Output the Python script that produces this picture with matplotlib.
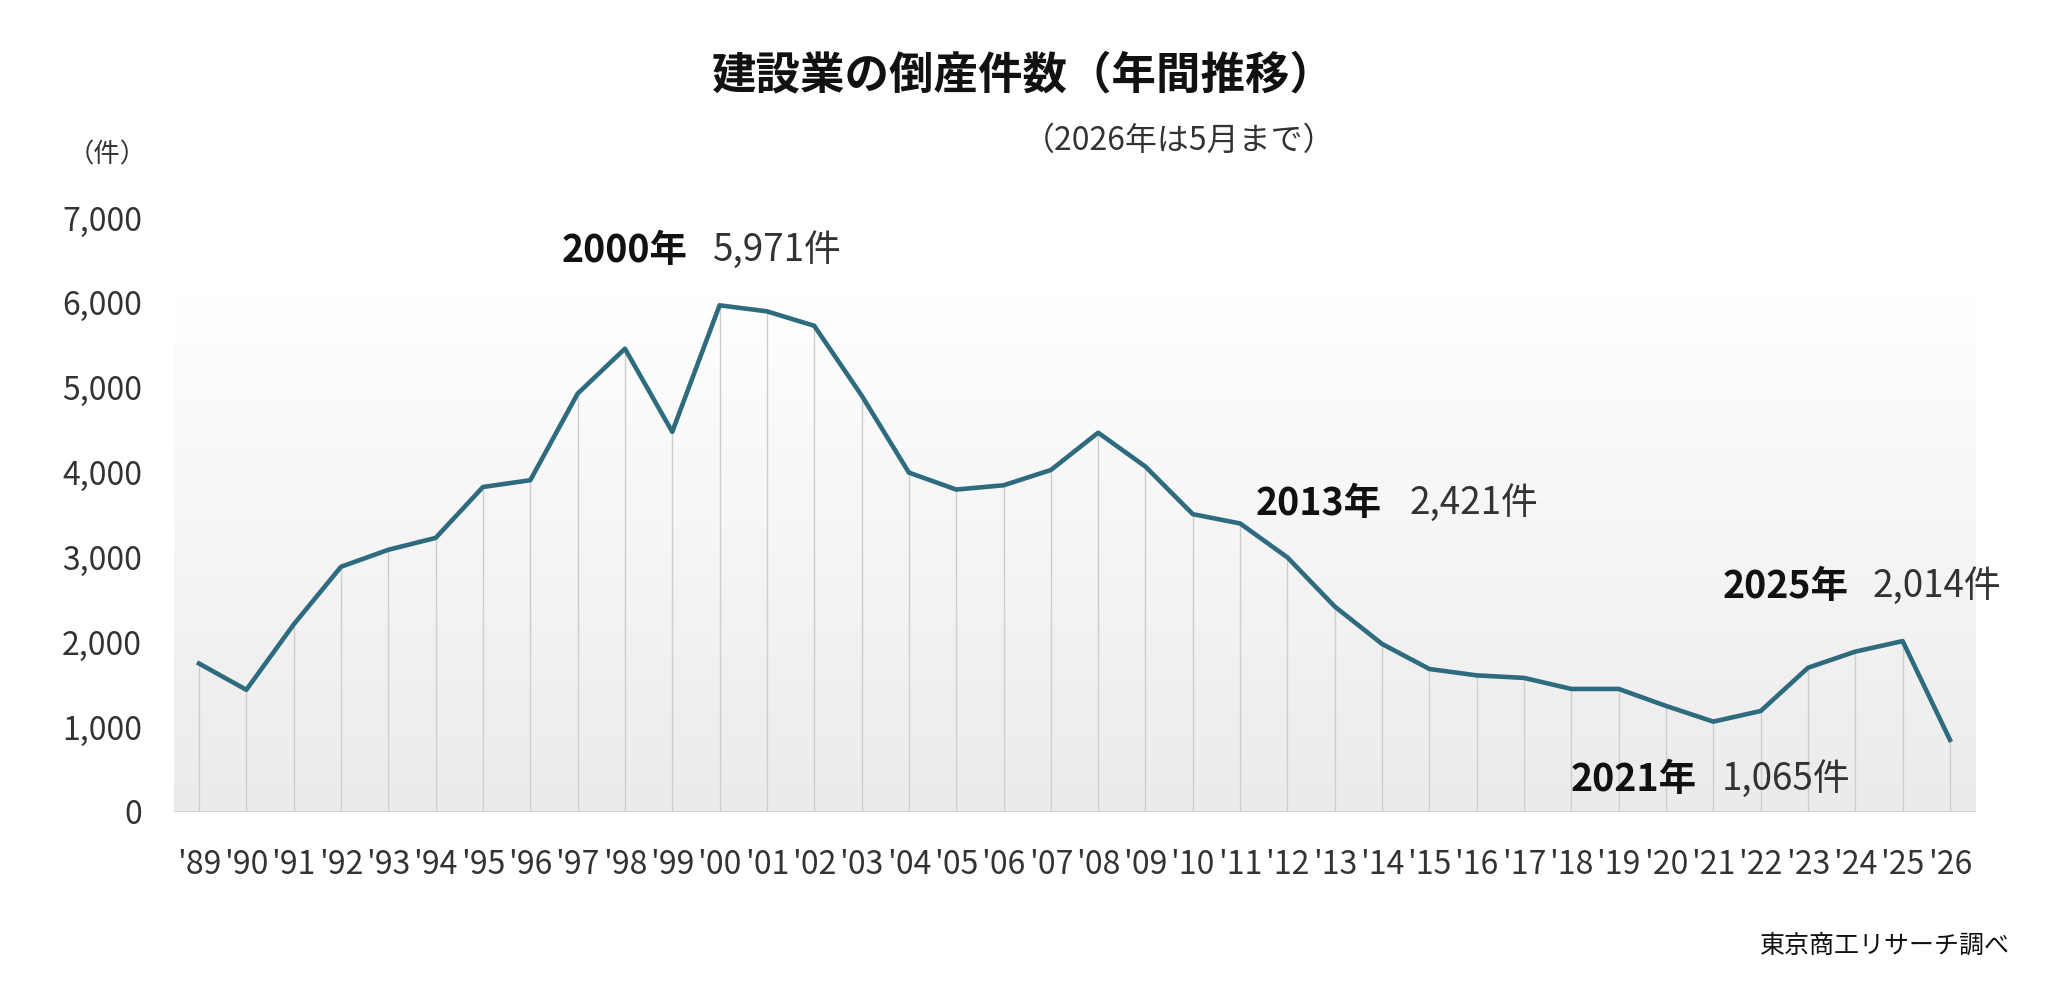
import numpy as np
import matplotlib
matplotlib.use('Agg')
import matplotlib.pyplot as plt

plt.rcParams['font.family'] = ['Noto Sans CJK JP', 'DejaVu Sans']

# 建設業の倒産件数 (東京商工リサーチ), 2026 is January-May only
years = list(range(1989, 2027))
counts = [1750, 1440, 2210, 2890, 3090, 3230, 3830, 3910, 4930, 5460,
          4480, 5971, 5900, 5730, 4910, 4000, 3800, 3850, 4030, 4470,
          4070, 3510, 3400, 3000, 2421, 1980, 1685, 1610, 1580, 1450,
          1450, 1250, 1065, 1190, 1700, 1890, 2014, 850]
tick_labels = ["'" + str(y)[2:] for y in years]
y_ticks = [0, 1000, 2000, 3000, 4000, 5000, 6000, 7000]

# highlighted years: (year label, count label, x of year, x of count, y)
notes = [
    ('2000年', '5,971件', 1996.67, 1999.87, 6620),
    ('2013年', '2,421件', 2011.33, 2014.58, 3640),
    ('2025年', '2,014件', 2021.2, 2024.37, 2660),
    ('2021年', '1,065件', 2017.98, 2021.18, 380),
]

line_color = '#2e6b7e'
text_color = '#333333'

fig = plt.figure(figsize=(20.61, 10), dpi=100)
ax = fig.add_axes([0.0844, 0.188, 0.8739, 0.594])

# soft vertical gradient behind the plot
grad = np.linspace(0, 1, 256).reshape(-1, 1)
ax.imshow(grad, cmap=matplotlib.colors.LinearSegmentedColormap.from_list(
    'bg', ['#ebebeb', '#ffffff']), origin='lower', aspect='auto',
    extent=(0, 1, 0, 0.874), transform=ax.transAxes, zorder=0)

ax.vlines(years, 0, counts, color='#cdcdcd', linewidth=1, zorder=1)
ax.axhline(0, color='#d2d2d2', linewidth=2, zorder=2)
ax.plot(years, counts, color=line_color, linewidth=3.3, zorder=3)

ax.set_xlim(1988.47, 2026.53)
ax.set_ylim(0, 7000)
ax.set_xticks(years)
ax.set_xticklabels(tick_labels)
ax.set_yticks(y_ticks)
ax.set_yticklabels([f'{v:,}' for v in y_ticks])
ax.tick_params(axis='both', length=0, labelsize=23, labelcolor=text_color)
ax.tick_params(axis='x', pad=27)
ax.tick_params(axis='y', pad=23)
for s in ax.spines.values():
    s.set_visible(False)

for year_txt, count_txt, x1, x2, y in notes:
    ax.text(x1, y, year_txt, fontsize=27, fontweight='bold', color='#111111',
            ha='left', va='center', zorder=4)
    ax.text(x2, y, count_txt, fontsize=26.5, color=text_color,
            ha='left', va='center', zorder=4)

fig.text(0.4965, 0.925, '建設業の倒産件数（年間推移）', fontsize=32,
         fontweight='bold', color='#111111', ha='center', va='center')
fig.text(0.648, 0.859, '（2026年は5月まで）', fontsize=23, color=text_color,
         ha='right', va='center')
fig.text(0.033, 0.845, '（件）', fontsize=19, color=text_color,
         ha='left', va='center')
fig.text(0.975, 0.054, '東京商工リサーチ調べ', fontsize=18, color='#111111',
         ha='right', va='center')

fig.savefig('out.png', dpi=100, facecolor='white')
